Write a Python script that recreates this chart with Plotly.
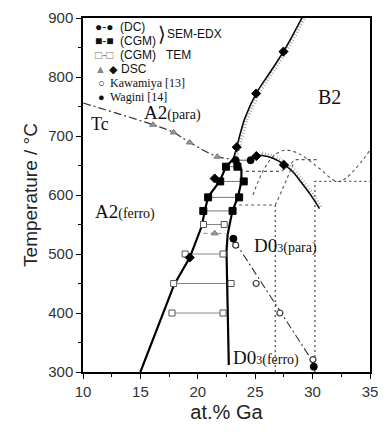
import numpy as np
import plotly.graph_objects as go

# ---------------- data ----------------
# Curie temperature line (dash-dot) and DSC triangles
tc_x = [10.0, 16.1, 17.9, 19.3, 21.7, 23.1]
tc_y = [756, 719, 706, 689, 665, 661]
tri_x = [16.1, 17.9, 19.3, 21.7, 21.47]
tri_y = [719, 706, 689, 665, 535]

# A2/B2 boundary (solid, hatched)
b2_x = [29.07, 28.3, 27.46, 26.3, 25.08, 24.1, 23.39, 23.1]
b2_y = [900, 872, 843, 808, 772, 730, 681, 661]

# D03 ordering curve (solid, hatched)
d03_x = [24.4, 25.0, 25.6, 26.6, 27.5, 28.3, 28.95, 29.8, 30.6]
d03_y = [661, 666, 667, 662, 652, 639, 623, 601, 577]

# two-phase boundaries
left_x = [15.0, 17.94, 19.3, 20.34, 20.6, 20.9, 21.9, 22.46, 23.1]
left_y = [300, 448, 494, 547, 572, 597, 623, 648, 661]
right_x = [22.7, 22.6, 22.5, 22.6, 23.0, 23.5, 23.8, 23.8, 23.55, 23.1]
right_y = [312, 455, 505, 533, 572, 597, 623, 643, 656, 661]

# SEM-EDX (CGM) filled squares: tie lines
cgm_T = [648, 623, 596, 573]
cgm_lo = [22.46, 21.95, 20.9, 20.48]
cgm_hi = [23.45, 24.0, 23.6, 23.03]

# TEM (CGM) open squares: tie lines
tem_T = [550, 500, 450, 400]
tem_lo = [20.5, 18.9, 17.9, 17.75]
tem_hi = [22.3, 22.2, 22.9, 22.2]

# DSC tie line with triangle
dsc_tie_x = [20.5, 22.4]
dsc_tie_y = [535, 535]

# DC filled circles
dc_x = [23.3, 24.6]
dc_y = [659, 659]

# DSC diamonds
dia_x = [27.46, 25.08, 23.39, 25.1, 27.5, 21.47, 19.3]
dia_y = [843, 772, 681, 666, 651, 628, 494]

# Kawamiya (open circles) and Wagini (filled circles)
kaw_x = [23.3, 25.08, 27.15, 30.03]
kaw_y = [515, 450, 400, 321]
wag_x = [23.1, 30.1]
wag_y = [526, 309]

# D03 order-disorder dash-dot line
od_x = [23.2, 30.2]
od_y = [522, 312]

# thin dashed / dotted construction lines
dashA_x = [23.6, 26.75, 27.6, 28.3]
dashA_y = [583, 583, 620, 652]
dashB_x = [24.8, 25.8, 26.7, 27.6, 28.6, 29.6, 30.6, 32.3, 35.0]
dashB_y = [600, 645, 668, 676, 672, 660, 645, 623, 676]
dashC_x = [24.2, 27.3, 28.5, 30.5]
dashC_y = [640, 640, 660, 660]
vdot1_x = [26.75, 26.75]
vdot1_y = [300, 583]
vdot2_x = [30.2, 30.2, 35.0]
vdot2_y = [300, 623, 623]

# legend texts
leg_sym = ["●-●", "■-■", "□-□", "▲ ◆", "○", "●"]
leg_txt = ["(DC)", "(CGM)", "(CGM)", "DSC", "Kawamiya [13]", "Wagini [14]"]

# axes
x_ticks = [10, 15, 20, 25, 30, 35]
y_ticks = [300, 400, 500, 600, 700, 800, 900]

# ---------------- helpers ----------------
SX = 295 / 25.0   # px per at.%
SY = 357 / 600.0  # px per degC


def hatch(xs, ys, side=1, step=3.0, length=4.0):
    px = np.array(xs) * SX
    py = np.array(ys) * SY
    seg = np.hypot(np.diff(px), np.diff(py))
    s = np.concatenate([[0], np.cumsum(seg)])
    ss = np.arange(0, s[-1], step)
    hx = np.interp(ss, s, px)
    hy = np.interp(ss, s, py)
    outx, outy = [], []
    for i in range(len(ss)):
        j = min(np.searchsorted(s, ss[i], side="right") - 1, len(px) - 2)
        dx, dy = px[j + 1] - px[j], py[j + 1] - py[j]
        n = np.hypot(dx, dy)
        nx, ny = dy / n * side, -dx / n * side
        outx += [hx[i] / SX, (hx[i] + nx * length) / SX, None]
        outy += [hy[i] / SY, (hy[i] + ny * length) / SY, None]
    return outx, outy


fig = go.Figure()


def line(x, y, width=1.0, dash="solid", color="black", shape="linear"):
    fig.add_trace(go.Scatter(x=x, y=y, mode="lines", showlegend=False,
                             line=dict(color=color, width=width, dash=dash, shape=shape),
                             hoverinfo="skip"))


def marks(x, y, symbol, size=8, color="black", lc="black", lw=1):
    fig.add_trace(go.Scatter(x=x, y=y, mode="markers", showlegend=False,
                             marker=dict(symbol=symbol, size=size, color=color,
                                         line=dict(color=lc, width=lw)),
                             hoverinfo="skip"))


# thin dashed construction lines
line(dashA_x, dashA_y, 1.1, "3px,3px", "#555")
line(dashB_x, dashB_y, 1.1, "3px,3px", "#555", "spline")
line(dashC_x, dashC_y, 1.1, "3px,3px", "#555")
line(vdot1_x, vdot1_y, 1.3, "2px,3px", "#555")
line(vdot2_x, vdot2_y, 1.3, "2px,3px", "#555")

# tie lines
for T, a, b in zip(cgm_T, cgm_lo, cgm_hi):
    line([a, b], [T, T], 1.0, "solid", "#777")
for T, a, b in zip(tem_T, tem_lo, tem_hi):
    line([a, b], [T, T], 1.0, "solid", "#888")
line(dsc_tie_x, dsc_tie_y, 1.0, "4px,3px", "#888")
line(dc_x, dc_y, 1.0, "solid", "#555")

# main boundaries
line(tc_x, tc_y, 1.2, "8px,3px,2px,3px", "#333", "spline")
line(od_x, od_y, 1.1, "8px,3px,2px,3px", "#333")
line(b2_x, b2_y, 1.6, "solid", "black", "spline")
hx, hy = hatch(b2_x, b2_y, side=-1)
line(hx, hy, 0.6, "solid", "#666")
line(d03_x, d03_y, 1.6, "solid", "black", "spline")
hx, hy = hatch(d03_x[2:], d03_y[2:], side=-1)
line(hx, hy, 0.6, "solid", "#666")
line(left_x, left_y, 2.2, "solid", "black")
line(right_x, right_y, 2.2, "solid", "black")

# markers
marks(tem_lo + tem_hi, tem_T + tem_T, "square", 6, "white", "#555", 1)
marks(cgm_lo + cgm_hi, cgm_T + cgm_T, "square", 7, "black")
marks(tri_x, tri_y, "triangle-up", 6, "#999", "#777", 1)
marks(dia_x, dia_y, "diamond", 7, "black")
marks(dc_x, dc_y, "circle", 7, "black")
marks(kaw_x, kaw_y, "circle", 6, "white", "#333", 1.2)
marks(wag_x, wag_y, "circle", 7, "black")

# ---------------- labels ----------------
serif = "Liberation Serif, Times New Roman, serif"
sans = "Liberation Sans, Arial, sans-serif"


def label(x, y, text, size=19):
    fig.add_annotation(x=x, y=y, text=text, showarrow=False, xanchor="center", yanchor="middle",
                       font=dict(family=serif, size=size, color="#111"))


small = "<span style='font-size:14px'>%s</span>"
sub3 = "<span style='font-size:12px'>3</span>"
label(17.8, 740, "A2" + small % "(para)")
label(31.5, 766, "B2", 20)
label(11.5, 720, "Tc", 18)
label(13.7, 572, "A2" + small % "(ferro)")
label(27.6, 514, "D0" + sub3 + small % "(para)")
label(25.9, 324, "D0" + sub3 + small % "(ferro)")


# legend (text)
def leg(xp, yp, text, size=12, family=sans):
    fig.add_annotation(x=(xp - 83) / 295.0, y=(372 - yp) / 357.0, xref="paper", yref="paper",
                       text=text, showarrow=False, xanchor="left", yanchor="middle",
                       borderpad=0, font=dict(family=family, size=size, color="#111"))


rows_y = [24, 38, 52, 66, 81, 95]
sym_x = [94, 94, 94, 94, 97, 97]
txt_x = [120, 120, 120, 121, 110, 110]
sym_col = ["#111", "#111", "#777", "#111", "#111", "#111"]
for i in range(6):
    s = leg_sym[i]
    if i == 3:
        s = "<span style='color:#888'>▲</span> ◆"
    elif sym_col[i] != "#111":
        s = "<span style='color:%s'>%s</span>" % (sym_col[i], s)
    leg(sym_x[i], rows_y[i], s, 11 if i >= 3 else 12)
    fam = serif if i >= 4 else sans
    leg(txt_x[i], rows_y[i], leg_txt[i], 12, fam)
leg(167, 52, "TEM")
leg(159, 31, "⟩", 20)
leg(168, 31, "SEM-EDX")

fig.update_layout(
    width=387, height=435,
    margin=dict(l=83, r=9, t=15, b=63),
    paper_bgcolor="white", plot_bgcolor="white",
    font=dict(family=sans, color="#333"),
    xaxis=dict(range=[10, 35], tickvals=x_ticks, ticks="outside", ticklen=5, tickwidth=1.2,
               tickcolor="black", showline=True, linecolor="black", linewidth=1.5, mirror=True,
               showgrid=False, zeroline=False, tickfont=dict(size=15, color="#333"),
               minor=dict(dtick=2.5, ticks="outside", ticklen=3, tickcolor="black", showgrid=False),
               title=dict(text="at.% Ga", font=dict(size=20, color="#222"), standoff=6)),
    yaxis=dict(range=[300, 900], tickvals=y_ticks, ticks="outside", ticklen=5, tickwidth=1.2,
               tickcolor="black", showline=True, linecolor="black", linewidth=1.5, mirror=True,
               showgrid=False, zeroline=False, tickfont=dict(size=15, color="#333"),
               minor=dict(dtick=50, ticks="outside", ticklen=3, tickcolor="black", showgrid=False),
               title=dict(text="Temperature / °C", font=dict(size=19, color="#222"), standoff=6)),
)

fig.write_html("out.html")
